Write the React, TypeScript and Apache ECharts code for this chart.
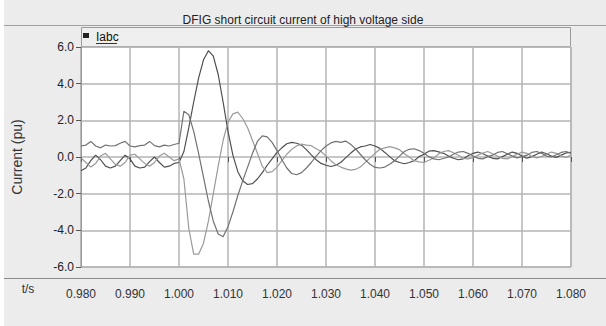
import React, { useEffect, useRef } from "react";
import * as echarts from "echarts";

// Sampling base: one sample per millisecond from 980 ms (0.980 s)
const TIME_START_MS = 980;
const TIME_STEP_MS = 1;

const X_TICKS_MS = { min: 980, max: 1080, interval: 10 };
const Y_TICKS = { min: -6, max: 6, interval: 2 };

// Phase currents (pu), one value per ms
const phaseA = [
  -0.75, -0.6, -0.2, 0.1, -0.15, -0.5, -0.6, -0.5, -0.2, 0.1,
  -0.1, -0.5, -0.6, -0.55, -0.25, 0.0, -0.3, -0.55, -0.5, -0.35,
  -0.3, 0.3, 1.6, 3.0, 4.3, 5.3, 5.8, 5.5, 4.5, 3.0,
  1.4, 0.1, -0.8, -1.3, -1.5, -1.45, -1.2, -0.85, -0.45, -0.1,
  0.25, 0.5, 0.72, 0.8, 0.75, 0.65, 0.4, 0.12, -0.15, -0.35,
  -0.45, -0.52, -0.45, -0.3, -0.05, 0.2, 0.42, 0.55, 0.6, 0.68,
  0.6, 0.47, 0.25, 0.02, -0.2, -0.3, -0.37, -0.3, -0.2, 0.02,
  0.15, 0.32, 0.35, 0.28, 0.2, 0.05, -0.07, -0.15, -0.1, 0.07,
  0.2, 0.27, 0.18, 0.05, -0.07, -0.1, 0.02, 0.15, 0.27, 0.2,
  0.05, -0.07, 0.02, 0.15, 0.27, 0.18, 0.05, -0.02, 0.1, 0.22,
  0.25,
];
const phaseB = [
  -0.05, -0.3, -0.55, -0.35, 0.05, 0.2, -0.1, -0.4, -0.5, -0.3,
  0.1, 0.15, -0.1, -0.35, -0.5, -0.3, 0.05, 0.2, 0.0, -0.2,
  -0.1, -1.2, -3.9, -5.3, -5.3, -4.7, -3.5, -2.0, -0.5, 0.9,
  1.9, 2.35, 2.45, 2.1, 1.6, 0.9, 0.2, -0.5, -0.85, -0.8,
  -0.55, -0.2, 0.15, 0.42, 0.6, 0.7, 0.65, 0.62, 0.45, 0.3,
  0.05, -0.2, -0.42, -0.55, -0.65, -0.72, -0.68, -0.55, -0.3, -0.05,
  0.2, 0.42, 0.5, 0.57, 0.5, 0.4, 0.18, 0.0, -0.2, -0.27,
  -0.3, -0.18, -0.05, 0.17, 0.3, 0.35, 0.23, 0.1, -0.07, -0.1,
  -0.03, 0.1, 0.22, 0.3, 0.18, 0.05, -0.07, -0.1, 0.02, 0.15,
  0.27, 0.2, 0.03, -0.05, 0.02, 0.15, 0.27, 0.2, 0.05, -0.02,
  0.1,
];
const phaseC = [
  0.6, 0.65, 0.85, 0.6, 0.5, 0.65, 0.6, 0.62, 0.75, 0.85,
  0.6, 0.55, 0.62, 0.65, 0.85, 0.62, 0.55, 0.65, 0.6, 0.68,
  0.75, 2.5, 2.3, 1.4, 0.2, -1.1, -2.4, -3.5, -4.2, -4.35,
  -3.8, -3.0, -2.1, -1.3, -0.55, 0.2, 0.85, 1.15, 1.1, 0.8,
  0.35, -0.15, -0.6, -0.9, -0.97, -0.85, -0.6, -0.3, 0.05, 0.35,
  0.6, 0.77, 0.85, 0.8, 0.87, 0.7, 0.45, 0.15, -0.15, -0.4,
  -0.57, -0.6, -0.55, -0.4, -0.2, 0.05, 0.3, 0.42, 0.45, 0.35,
  0.2, 0.02, -0.1, -0.15, -0.08, 0.0, 0.15, 0.27, 0.3, 0.2,
  0.05, -0.07, -0.1, 0.02, 0.1, 0.25, 0.3, 0.18, 0.05, -0.05,
  0.02, 0.1, 0.25, 0.3, 0.2, 0.05, 0.0, 0.12, 0.25, 0.3,
  0.2,
];

const TITLE = "DFIG short circuit current of high voltage side";
const LEGEND_LABEL = "Iabc";
const Y_NAME = "Current (pu)";
const X_NAME = "t/s";

const FONT = "'Liberation Sans', Arial, sans-serif";

const toPairs = (arr: number[]) =>
  arr.map((v, i) => [TIME_START_MS + i * TIME_STEP_MS, v]);

export default function App() {
  const ref = useRef<HTMLDivElement>(null);
  useEffect(() => {
    if (!ref.current) return;
    const chart = echarts.init(ref.current, undefined, { renderer: "svg" });
    const lineSeries = (name: string, data: number[], color: string) => ({
      type: "line",
      name,
      data: toPairs(data),
      showSymbol: false,
      symbol: "none",
      lineStyle: { color, width: 1.2 },
      itemStyle: { color },
    });
    chart.setOption({
      animation: false,
      backgroundColor: "#ececec",
      textStyle: { fontFamily: FONT },
      title: {
        text: TITLE,
        left: "center",
        top: 9,
        textStyle: { fontSize: 12, fontWeight: "normal", color: "#222", fontFamily: FONT },
      },
      grid: {
        left: 81,
        right: 35,
        top: 47,
        bottom: 59,
        show: true,
        backgroundColor: "#ffffff",
        borderColor: "#9a9a9a",
        borderWidth: 1,
      },
      xAxis: {
        type: "value",
        min: X_TICKS_MS.min,
        max: X_TICKS_MS.max,
        interval: X_TICKS_MS.interval,
        offset: 12,
        axisLine: { show: false },
        axisTick: { show: true, length: 5, lineStyle: { color: "#555" } },
        axisLabel: {
          fontSize: 12,
          color: "#333",
          margin: 9,
          fontFamily: FONT,
          formatter: (v: number) => (v / 1000).toFixed(3),
        },
        splitLine: { show: true, lineStyle: { color: "#b4b4b4", width: 1.5 } },
      },
      yAxis: {
        type: "value",
        min: Y_TICKS.min,
        max: Y_TICKS.max,
        interval: Y_TICKS.interval,
        name: Y_NAME,
        nameLocation: "middle",
        nameRotate: 90,
        nameGap: 57,
        nameTextStyle: { fontSize: 14, color: "#333", fontFamily: FONT },
        axisLine: { show: true, lineStyle: { color: "#9a9a9a" } },
        axisTick: { show: true, length: 5, lineStyle: { color: "#555" } },
        axisLabel: {
          fontSize: 12,
          color: "#222",
          margin: 7,
          fontFamily: FONT,
          formatter: (v: number) => v.toFixed(1),
        },
        splitLine: { show: true, lineStyle: { color: "#b4b4b4", width: 1.5 } },
      },
      graphic: [
        { type: "rect", shape: { x: 0, y: 0, width: 4, height: 326 }, style: { fill: "#ffffff" }, silent: true },
        { type: "line", shape: { x1: 4, y1: 25.5, x2: 606, y2: 25.5 }, style: { stroke: "#a0a0a0", lineWidth: 1 }, silent: true },
        { type: "rect", shape: { x: 81.5, y: 27.5, width: 489, height: 19 }, style: { fill: "#efefef", stroke: "#9a9a9a", lineWidth: 1 }, silent: true },
        { type: "rect", shape: { x: 83, y: 33, width: 6, height: 5 }, style: { fill: "#222" }, silent: true },
        { type: "text", x: 96, y: 37, style: { text: LEGEND_LABEL, fill: "#111", verticalAlign: "middle", font: `12px ${FONT}` }, silent: true },
        { type: "line", shape: { x1: 96, y1: 43.5, x2: 117, y2: 43.5 }, style: { stroke: "#333", lineWidth: 1 }, silent: true },
        { type: "line", shape: { x1: 4, y1: 278.5, x2: 606, y2: 278.5 }, style: { stroke: "#8c8c8c", lineWidth: 1 }, silent: true },
        { type: "text", x: 28, y: 289, style: { text: X_NAME, fill: "#333", align: "center", verticalAlign: "middle", font: `12px ${FONT}` }, silent: true },
      ],
      series: [
        lineSeries("Ia", phaseA, "#4f4f4f"),
        lineSeries("Ib", phaseB, "#9a9a9a"),
        lineSeries("Ic", phaseC, "#727272"),
      ],
    });
    return () => chart.dispose();
  }, []);
  return (
    <div
      ref={ref}
      style={{ position: "fixed", left: 0, top: 0, width: 606, height: 326 }}
    />
  );
}
